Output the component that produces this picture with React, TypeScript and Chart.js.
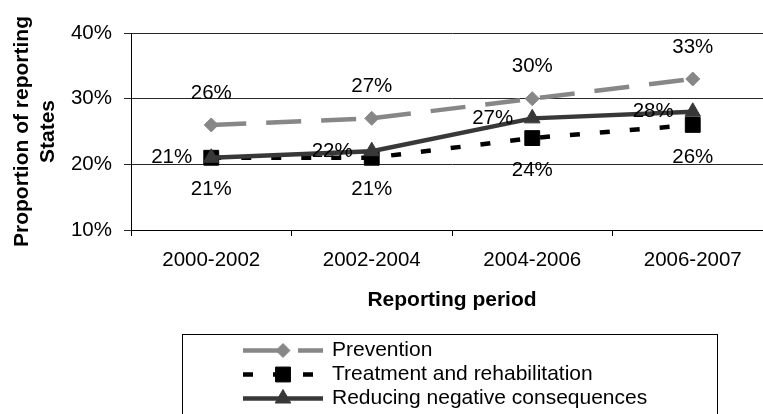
import React, { useEffect, useRef } from 'react';
import { Chart, registerables } from 'chart.js';
Chart.register(...registerables);

const categories = ['2000-2002', '2002-2004', '2004-2006', '2006-2007'];
const seriesNames = ['Prevention', 'Treatment and rehabilitation', 'Reducing negative consequences'];
const prevention = [26, 27, 30, 33];
const treatment = [21, 21, 24, 26];
const reducing = [21, 22, 27, 28];
const yTicks = [10, 20, 30, 40];
const yTitle = ['Proportion of reporting', 'States'];
const xTitle = 'Reporting period';

const FONT = 'Arial, "Liberation Sans", sans-serif';

function drawMarker(ctx: CanvasRenderingContext2D, style: string, x: number, y: number, r: number, color: string) {
  ctx.save();
  ctx.fillStyle = color;
  ctx.strokeStyle = color;
  ctx.lineWidth = 1;
  ctx.setLineDash([]);
  ctx.beginPath();
  if (style === 'rectRot') {
    ctx.moveTo(x - r, y);
    ctx.lineTo(x, y - r);
    ctx.lineTo(x + r, y);
    ctx.lineTo(x, y + r);
  } else if (style === 'rect') {
    const s = Math.SQRT1_2 * r;
    ctx.rect(x - s, y - s, 2 * s, 2 * s);
  } else {
    let a = 0;
    ctx.moveTo(x + Math.sin(a) * r, y - Math.cos(a) * r);
    a += (2 * Math.PI) / 3;
    ctx.lineTo(x + Math.sin(a) * r, y - Math.cos(a) * r);
    a += (2 * Math.PI) / 3;
    ctx.lineTo(x + Math.sin(a) * r, y - Math.cos(a) * r);
  }
  ctx.closePath();
  ctx.fill();
  ctx.stroke();
  ctx.restore();
}

const valueLabels = {
  id: 'valueLabels',
  afterDatasetsDraw(chart: any) {
    const ctx = chart.ctx;
    ctx.save();
    ctx.font = `20.5px ${FONT}`;
    ctx.fillStyle = '#000';
    ctx.textBaseline = 'middle';
    chart.data.datasets.forEach((ds: any, i: number) => {
      const meta = chart.getDatasetMeta(i);
      meta.data.forEach((pt: any, j: number) => {
        const txt = ds.data[j] + '%';
        if (ds.labelPos === 'above') {
          ctx.textAlign = 'center';
          ctx.fillText(txt, pt.x, pt.y - 32);
        } else if (ds.labelPos === 'below') {
          ctx.textAlign = 'center';
          ctx.fillText(txt, pt.x, pt.y + 32);
        } else {
          ctx.textAlign = 'right';
          ctx.fillText(txt, pt.x - 19, pt.y);
        }
      });
    });
    ctx.restore();
  },
};

const customLegend = {
  id: 'customLegend',
  afterDraw(chart: any) {
    const ctx = chart.ctx;
    ctx.save();
    ctx.strokeStyle = '#000';
    ctx.lineWidth = 1;
    ctx.strokeRect(174.5, 326.5, 535, 200);
    const rowY = [342.5, 366.5, 390.5];
    chart.data.datasets.forEach((ds: any, i: number) => {
      const y = rowY[i];
      ctx.save();
      ctx.strokeStyle = ds.borderColor;
      ctx.lineWidth = ds.borderWidth;
      ctx.lineCap = 'butt';
      ctx.setLineDash(ds.borderDash || []);
      ctx.beginPath();
      ctx.moveTo(235, y);
      ctx.lineTo(315, y);
      ctx.stroke();
      ctx.restore();
      drawMarker(ctx, ds.pointStyle, 275, y, ds.pointRadius, ds.pointBackgroundColor);
      ctx.font = `21px ${FONT}`;
      ctx.fillStyle = '#000';
      ctx.textAlign = 'left';
      ctx.textBaseline = 'middle';
      ctx.fillText(ds.label, 324, y);
    });
    ctx.restore();
  },
};

export default function App() {
  const ref = useRef<HTMLCanvasElement | null>(null);
  useEffect(() => {
    if (!ref.current) return;
    const chart = new Chart(ref.current, {
      type: 'line',
      data: {
        labels: categories,
        datasets: [
          {
            label: seriesNames[0],
            data: prevention,
            borderColor: '#878787',
            backgroundColor: '#878787',
            pointBackgroundColor: '#878787',
            pointBorderColor: '#878787',
            borderWidth: 4.5,
            borderDash: [35, 20],
            borderCapStyle: 'butt',
            pointStyle: 'rectRot',
            pointRadius: 7,
            pointBorderWidth: 1,
            tension: 0,
            order: 2,
            labelPos: 'above',
          } as any,
          {
            label: seriesNames[1],
            data: treatment,
            borderColor: '#000000',
            backgroundColor: '#000000',
            pointBackgroundColor: '#000000',
            pointBorderColor: '#000000',
            borderWidth: 4.5,
            borderDash: [10, 20],
            borderCapStyle: 'butt',
            pointStyle: 'rect',
            pointRadius: 10.5,
            pointBorderWidth: 1,
            tension: 0,
            order: 1,
            labelPos: 'below',
          } as any,
          {
            label: seriesNames[2],
            data: reducing,
            borderColor: '#383838',
            backgroundColor: '#383838',
            pointBackgroundColor: '#383838',
            pointBorderColor: '#383838',
            borderWidth: 4.5,
            borderCapStyle: 'butt',
            pointStyle: 'triangle',
            pointRadius: 9,
            pointBorderWidth: 1,
            tension: 0,
            order: 0,
            labelPos: 'left',
          } as any,
        ],
      },
      options: {
        responsive: false,
        animation: false,
        events: [],
        layout: { padding: { left: 0, right: 25, top: 25, bottom: 101.4 } },
        plugins: {
          legend: { display: false },
          tooltip: { enabled: false },
        },
        scales: {
          x: {
            offset: true,
            grid: {
              offset: true,
              drawOnChartArea: false,
              drawTicks: true,
              tickLength: 6,
              color: '#000',
            },
            border: { color: '#000', width: 1 },
            ticks: {
              color: '#000',
              font: { family: FONT, size: 20.5 },
              padding: 12,
              maxRotation: 0,
            },
            title: {
              display: true,
              text: xTitle,
              color: '#000',
              font: { family: FONT, size: 21, weight: 'bold' },
              padding: { top: 0, bottom: 0 },
            },
            afterFit: (s: any) => {
              s.height = 82.6;
            },
          },
          y: {
            min: yTicks[0],
            max: yTicks[yTicks.length - 1],
            afterBuildTicks: (s: any) => {
              s.ticks = yTicks.map((v) => ({ value: v }));
            },
            grid: {
              color: '#262626',
              lineWidth: 1,
              drawTicks: true,
              tickLength: 7,
            },
            border: { color: '#000', width: 1 },
            ticks: {
              color: '#000',
              font: { family: FONT, size: 20.5 },
              padding: 12,
              callback: (v: any) => v + '%',
            },
            title: {
              display: true,
              text: yTitle,
              color: '#000',
              font: { family: FONT, size: 21, weight: 'bold', lineHeight: 26 / 21 },
              padding: { top: 1, bottom: 0 },
            },
            afterFit: (s: any) => {
              s.width = 123;
            },
          },
        },
      },
      plugins: [valueLabels, customLegend],
    } as any);
    return () => chart.destroy();
  }, []);
  return (
    <div style={{ position: 'fixed', left: 8, top: 8, width: 755, height: 406, overflow: 'hidden', background: '#fff' }}>
      <canvas ref={ref} width={790} height={406} style={{ display: 'block', width: 790, height: 406 }} />
    </div>
  );
}
